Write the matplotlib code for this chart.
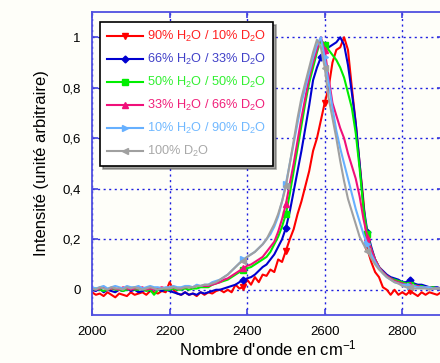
import numpy as np
import matplotlib
matplotlib.use('Agg')
import matplotlib.pyplot as plt
from matplotlib.ticker import FixedLocator, FixedFormatter

plt.rcParams['font.family'] = ['Liberation Sans', 'DejaVu Sans']
plt.rcParams['mathtext.default'] = 'regular'

# wavenumbers (cm-1), one value every 10 cm-1 from 2000 to 2900
wavenumber = np.arange(2000, 2901, 10)

# intensities
h2o_90 = [
    -0.01, -0.02, -0.015, -0.025, -0.01, -0.02, -0.03, -0.015, -0.02, -0.025,
    -0.01, -0.02, -0.015, -0.01, -0.02, -0.005, -0.01, -0.015, -0.005, -0.01,
    0.03, 0.0, -0.015, -0.02, -0.01, -0.02, -0.015, -0.025, -0.01, -0.02,
    -0.01, -0.015, -0.005, 0.0, -0.01, 0.0, -0.01, 0.02, 0.005, 0.01,
    0.04, 0.02, 0.05, 0.03, 0.06, 0.055, 0.08, 0.07, 0.12, 0.11,
    0.155, 0.2, 0.24, 0.3, 0.35, 0.41, 0.47, 0.55, 0.6, 0.67,
    0.74, 0.8, 0.9, 0.95, 0.96, 1.0, 0.95, 0.8, 0.66, 0.5,
    0.35, 0.16, 0.11, 0.07, 0.05, 0.01, 0.0, -0.02, 0.0, -0.02,
    -0.01, -0.02, -0.005, -0.015, -0.025, -0.01, -0.02, -0.01, -0.015, -0.02,
    -0.01,
]
h2o_66 = [
    0.0, -0.005, 0.005, -0.01, 0.0, -0.005, -0.01, 0.0, -0.005, 0.005,
    -0.005, 0.0, -0.01, -0.005, 0.0, -0.005, 0.005, 0.0, -0.005, 0.0,
    -0.005, -0.01, -0.015, -0.02, -0.01, -0.02, -0.015, -0.02, -0.01, -0.015,
    -0.01, -0.005, 0.0, 0.0, 0.005, 0.01, 0.015, 0.02, 0.03, 0.04,
    0.045, 0.05, 0.06, 0.075, 0.09, 0.1, 0.12, 0.14, 0.17, 0.2,
    0.245, 0.31, 0.39, 0.47, 0.55, 0.64, 0.73, 0.83, 0.88, 0.92,
    0.95, 0.96, 0.97, 0.98, 1.0, 0.97, 0.89, 0.78, 0.66, 0.5,
    0.33, 0.23, 0.17, 0.12, 0.09, 0.075, 0.06, 0.05, 0.045, 0.04,
    0.03, 0.03, 0.04, 0.025, 0.02, 0.02, 0.015, 0.01, 0.01, 0.01,
    0.005,
]
h2o_50 = [
    0.0, 0.005, 0.0, -0.005, 0.0, 0.005, 0.0, 0.0, -0.005, 0.0,
    0.005, 0.0, 0.0, 0.005, -0.005, 0.0, -0.02, 0.0, 0.005, 0.0,
    0.0, 0.005, 0.0, 0.0, 0.005, 0.0, 0.005, 0.005, 0.01, 0.01,
    0.01, 0.02, 0.025, 0.03, 0.035, 0.04, 0.05, 0.06, 0.07, 0.08,
    0.085, 0.09, 0.1, 0.11, 0.12, 0.13, 0.15, 0.18, 0.21, 0.25,
    0.3, 0.38, 0.47, 0.56, 0.65, 0.74, 0.82, 0.88, 0.94, 0.99,
    0.97, 0.95, 0.93, 0.91, 0.88, 0.84, 0.78, 0.72, 0.62, 0.48,
    0.32, 0.22, 0.16, 0.12, 0.09, 0.07, 0.055, 0.045, 0.04, 0.035,
    0.03, 0.025, 0.02, 0.02, 0.015, 0.015, 0.01, 0.01, 0.01, 0.005,
    0.005,
]
h2o_33 = [
    0.005, 0.0, 0.005, 0.01, 0.0, 0.005, 0.005, 0.0, 0.01, 0.005,
    0.0, 0.005, 0.005, 0.01, 0.0, 0.005, 0.0, 0.005, 0.01, 0.005,
    0.005, 0.01, 0.005, 0.005, 0.01, 0.01, 0.01, 0.015, 0.015, 0.015,
    0.015, 0.02, 0.025, 0.03, 0.04, 0.045, 0.055, 0.065, 0.075, 0.085,
    0.095, 0.1, 0.11, 0.12, 0.13, 0.15, 0.17, 0.19, 0.23, 0.28,
    0.34, 0.42, 0.5, 0.59, 0.68, 0.76, 0.84, 0.9, 0.95, 1.0,
    0.95, 0.84, 0.74, 0.69, 0.64, 0.6, 0.54, 0.49, 0.44, 0.37,
    0.28, 0.21, 0.16, 0.12, 0.09, 0.07, 0.055, 0.045, 0.035, 0.03,
    0.025, 0.02, 0.02, 0.015, 0.015, 0.01, 0.01, 0.01, 0.005, 0.005,
    0.005,
]
h2o_10 = [
    0.01, 0.005, 0.01, 0.015, 0.005, 0.01, 0.015, 0.01, 0.005, 0.015,
    0.01, 0.01, 0.015, 0.005, 0.01, 0.015, 0.01, 0.01, 0.005, 0.01,
    0.01, 0.015, 0.01, 0.01, 0.015, 0.015, 0.01, 0.02, 0.015, 0.02,
    0.02, 0.03, 0.035, 0.04, 0.05, 0.06, 0.075, 0.09, 0.105, 0.12,
    0.13, 0.14, 0.15, 0.165, 0.18, 0.2, 0.22, 0.25, 0.29, 0.35,
    0.42, 0.5, 0.58, 0.66, 0.74, 0.8, 0.86, 0.92, 0.97, 1.0,
    0.92, 0.82, 0.72, 0.63, 0.56, 0.5, 0.44, 0.38, 0.32, 0.27,
    0.22, 0.18, 0.14, 0.11, 0.085, 0.065, 0.05, 0.04, 0.03, 0.025,
    0.02, 0.02, 0.015, 0.015, 0.01, 0.01, 0.01, 0.01, 0.005, 0.005,
    0.005,
]
d2o_100 = [
    0.005, 0.0, 0.01, 0.005, 0.0, 0.01, 0.005, 0.005, 0.0, 0.01,
    0.005, 0.01, 0.005, 0.0, 0.005, 0.01, 0.005, 0.0, 0.005, 0.005,
    0.005, 0.01, 0.005, 0.005, 0.01, 0.01, 0.01, 0.015, 0.015, 0.02,
    0.02, 0.025, 0.03, 0.04, 0.05, 0.06, 0.075, 0.09, 0.105, 0.115,
    0.13, 0.14, 0.15, 0.165, 0.18, 0.2, 0.23, 0.26, 0.3, 0.35,
    0.41, 0.5, 0.59, 0.68, 0.76, 0.82, 0.88, 0.94, 0.99, 0.96,
    0.88, 0.76, 0.68, 0.6, 0.51, 0.43, 0.36, 0.31, 0.26, 0.21,
    0.18, 0.155, 0.125, 0.1, 0.08, 0.065, 0.05, 0.04, 0.03, 0.025,
    0.015, 0.01, 0.01, 0.005, 0.005, 0.005, 0.005, 0.0, 0.005, 0.005,
    0.005,
]

labels = [
    '90% H$_2$O / 10% D$_2$O',
    '66% H$_2$O / 33% D$_2$O',
    '50% H$_2$O / 50% D$_2$O',
    '33% H$_2$O / 66% D$_2$O',
    '10% H$_2$O / 90% D$_2$O',
    '100% D$_2$O',
]
series = [h2o_90, h2o_66, h2o_50, h2o_33, h2o_10, d2o_100]
colors = ['#ff0000', '#0000d0', '#00ee00', '#f0107a', '#66b0ff', '#a0a0a0']
text_colors = ['#ff2020', '#4040c8', '#30f030', '#f0207a', '#70b8ff', '#a8a8a8']
markers = ['v', 'D', 's', '^', '>', '<']
msizes = [5, 3.5, 4.5, 5, 5, 5]
# indices where a marker is drawn
mark_idx = [[39, 50, 60, 71, 82],
            [39, 50, 59, 71, 82],
            [39, 50, 60, 71, 82],
            [39, 50, 60, 71, 82],
            [39, 50, 60, 71, 82],
            [39, 50, 60, 71, 82]]

fig = plt.figure(figsize=(4.4, 3.63), dpi=100, facecolor='#fefef9')
ax = fig.add_axes([92 / 440, 48 / 363, 351 / 440, 303 / 363])
ax.set_facecolor('#fefef9')

for y, lab, c, m, ms, idx in zip(series, labels, colors, markers, msizes, mark_idx):
    ax.plot(wavenumber, y, color=c, lw=1.5, marker=m, ms=ms, markevery=idx,
            label=lab)

ax.set_xlim(2000, 2905)
ax.set_ylim(-0.1, 1.1)

ax.xaxis.set_major_locator(FixedLocator([2000, 2200, 2400, 2600, 2800]))
ax.yaxis.set_major_locator(FixedLocator([0, 0.2, 0.4, 0.6, 0.8, 1.0]))
ax.yaxis.set_major_formatter(FixedFormatter(['0', '0,2', '0,4', '0,6', '0,8', '1']))

ax.grid(True, color='#2020e0', linestyle=(0, (1.5, 2.5)), lw=1)
for s in ax.spines.values():
    s.set_color('#5050e0')
    s.set_linewidth(1.3)
ax.tick_params(direction='in', length=4, width=1.2, color='#4040e0',
               labelsize=9.5, top=True, right=True, pad=8)

ax.set_xlabel("Nombre d'onde en cm$^{-1}$", fontsize=12, labelpad=0)
ax.set_ylabel('Intensité (unité arbitraire)', fontsize=12, labelpad=10)

leg = ax.legend(loc='upper left', bbox_to_anchor=(0.023, 0.967), fontsize=9.2,
                frameon=True, fancybox=False, shadow=True, handlelength=2.8,
                handletextpad=0.3, borderpad=0.55, labelspacing=0.62,
                borderaxespad=0)
leg.get_frame().set_edgecolor('black')
leg.get_frame().set_linewidth(1.2)
for txt, c in zip(leg.get_texts(), text_colors):
    txt.set_color(c)

fig.savefig('out.png', dpi=100, facecolor=fig.get_facecolor())
